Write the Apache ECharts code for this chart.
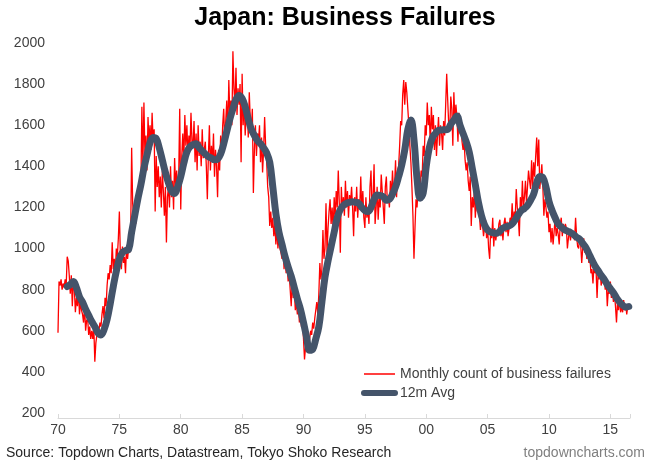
<!DOCTYPE html>
<html>
<head>
<meta charset="utf-8">
<script src="https://cdn.jsdelivr.net/npm/echarts@6/dist/echarts.min.js"></script>
<style>
html, body { margin: 0; padding: 0; background: #fff; }
#chartmain { width: 652px; height: 464px; }
</style>
</head>
<body>
<div id="chartmain"></div>
<script>
// monthly business failures, one row per year starting Jan 1970
var firstYear = 1970;
var monthlyRows = [
  [590, 840, 820, 850, 800, 830, 810, 850, 820, 960, 940, 870],
  [780, 870, 720, 840, 800, 690, 760, 720, 800, 680, 740, 700],
  [680, 640, 720, 600, 650, 660, 580, 620, 560, 600, 560, 620],
  [450, 540, 580, 620, 600, 640, 620, 680, 720, 660, 760, 720],
  [820, 880, 850, 920, 880, 1030, 900, 950, 880, 1000, 960, 1050],
  [1180, 960, 900, 1010, 930, 960, 880, 1010, 950, 1000, 980, 1050],
  [1490, 1220, 1150, 1180, 1120, 1200, 1180, 1250, 1300, 1280, 1690, 1400],
  [1710, 1450, 1550, 1380, 1640, 1520, 1600, 1480, 1660, 1520, 1580, 1180],
  [1450, 1300, 1400, 1250, 1350, 1200, 1380, 1280, 1160, 1300, 1030, 1250],
  [1300, 1200, 1400, 1250, 1330, 1190, 1440, 1300, 1380, 1280, 1350, 1680],
  [1190, 1450, 1560, 1420, 1650, 1500, 1600, 1450, 1550, 1480, 1660, 1520],
  [1500, 1620, 1420, 1560, 1380, 1600, 1450, 1520, 1400, 1580, 1440, 1480],
  [1520, 1400, 1240, 1450, 1600, 1380, 1500, 1420, 1560, 1350, 1480, 1400],
  [1250, 1480, 1380, 1550, 1450, 1600, 1680, 1520, 1620, 1720, 1560, 1820],
  [1650, 1720, 1600, 1960, 1780, 1700, 1880, 1650, 1780, 1700, 1800, 1420],
  [1850, 1600, 1720, 1550, 1650, 1700, 1540, 1760, 1620, 1580, 1680, 1270],
  [1480, 1600, 1450, 1560, 1520, 1600, 1420, 1540, 1370, 1480, 1640, 1500],
  [1420, 1300, 1250, 1110, 1180, 1100, 1150, 1060, 1120, 1020, 1100, 1000],
  [1050, 1000, 980, 950, 1010, 900, 960, 880, 920, 840, 880, 800],
  [720, 850, 760, 800, 700, 740, 680, 720, 640, 700, 620, 660],
  [560, 460, 520, 500, 540, 520, 560, 600, 580, 640, 610, 660],
  [700, 740, 680, 780, 930, 850, 900, 1090, 950, 1000, 1220, 980],
  [1100, 1180, 1240, 1120, 1200, 1090, 1250, 1150, 1280, 1200, 1380, 1220],
  [980, 1300, 1180, 1250, 1160, 1330, 1200, 1280, 1150, 1260, 1220, 1300],
  [1200, 1060, 1250, 1180, 1300, 1150, 1240, 1200, 1350, 1180, 1280, 1150],
  [1100, 1250, 1150, 1200, 1120, 1300, 1380, 1180, 1250, 1410, 1120, 1200],
  [1300, 1140, 1250, 1200, 1360, 1280, 1200, 1120, 1300, 1350, 1220, 1250],
  [1200, 1330, 1250, 1380, 1280, 1300, 1430, 1250, 1380, 1400, 1500, 1620],
  [1600, 1750, 1820, 1700, 1810, 1760, 1680, 1600, 1500, 1420, 1300, 1160],
  [950, 1100, 1240, 1200, 1290, 1250, 1300, 1380, 1350, 1500, 1450, 1600],
  [1550, 1710, 1600, 1650, 1500, 1690, 1580, 1650, 1480, 1600, 1450, 1550],
  [1640, 1500, 1600, 1560, 1480, 1620, 1550, 1700, 1850, 1720, 1600, 1580],
  [1740, 1680, 1500, 1760, 1620, 1700, 1640, 1520, 1660, 1560, 1600, 1520],
  [1480, 1520, 1430, 1380, 1420, 1330, 1280, 1350, 1110, 1250, 1200, 1280],
  [1150, 1250, 1180, 1220, 1160, 1090, 1150, 1120, 1060, 1100, 1140, 1050],
  [1100, 1000, 950, 1090, 1050, 1150, 1010, 1100, 1040, 1080, 1060, 1120],
  [1140, 1060, 1100, 1040, 1120, 1150, 1080, 1130, 1060, 1100, 1150, 1120],
  [1220, 1120, 1180, 1150, 1290, 1200, 1150, 1060, 1250, 1180, 1330, 1200],
  [1250, 1330, 1220, 1300, 1380, 1330, 1290, 1430, 1290, 1420, 1350, 1450],
  [1540, 1400, 1530, 1290, 1350, 1410, 1300, 1160, 1240, 1200, 1150, 1180],
  [1080, 1120, 1030, 1100, 1020, 1080, 1150, 1060, 1100, 1070, 1020, 1120],
  [1150, 1060, 1120, 1080, 1120, 1100, 1000, 1050, 1090, 1040, 1080, 1060],
  [1080, 1040, 1150, 1060, 1010, 1000, 1060, 1020, 930, 1000, 1050, 980],
  [1020, 950, 980, 930, 960, 880, 900, 830, 920, 880, 900, 760],
  [880, 850, 900, 820, 860, 830, 850, 800, 840, 720, 800, 780],
  [840, 760, 800, 740, 780, 720, 640, 740, 700, 760, 690, 720],
  [690, 750, 700, 730, 680, 720, 710]
];

// 12m average, read once per quarter starting Oct 1970
var avgStart = 1970.75;
var avgValues = [
  815,
  825, 840, 810, 765,   740, 705, 675, 645,   620, 590, 580, 605,
  655, 730, 814, 890,   950, 980, 990, 995,   1080, 1160, 1240, 1310,
  1390, 1455, 1515, 1540,   1535, 1490, 1430, 1370,   1320, 1280, 1268, 1300,
  1350, 1415, 1470, 1495,   1505, 1510, 1490, 1475,   1460, 1447, 1440, 1432,
  1435, 1460, 1510, 1570,   1630, 1680, 1725, 1745,   1730, 1690, 1630, 1580,
  1550, 1525, 1510, 1490,   1465, 1420, 1300, 1170,   1080, 1020, 960, 910,
  865, 810, 755, 705,   640, 570, 505, 510,   560, 620, 740, 860,
  940, 1010, 1080, 1150,   1190, 1210, 1220, 1225,   1228, 1225, 1220, 1200,
  1185, 1180, 1200, 1240,   1260, 1258, 1252, 1235,   1240, 1265, 1300, 1350,
  1405, 1480, 1580, 1625,   1530, 1340, 1245, 1270,   1400, 1490, 1540, 1560,
  1575, 1577, 1578, 1580,   1605, 1625, 1645, 1600,   1560, 1520, 1470, 1390,
  1310, 1225, 1160, 1115,   1090, 1080, 1076, 1074,   1085, 1100, 1106, 1110,
  1120, 1140, 1165, 1185,   1195, 1210, 1235, 1265,   1320, 1350, 1345, 1300,
  1230, 1185, 1150, 1120,   1105, 1092, 1085, 1078,   1068, 1055, 1045, 1025,
  1005, 975, 944, 915,   893, 870, 850, 825,   805, 785, 760, 740,
  725, 715, 718
];

var yearLabels = ['70', '75', '80', '85', '90', '95', '00', '05', '10', '15'];

window.onload = function () {
  var monthlyData = [];
  monthlyRows.forEach(function (row, y) {
    row.forEach(function (v, m) {
      monthlyData.push([firstYear + y + m / 12, v]);
    });
  });
  var avgData = avgValues.map(function (v, i) {
    return [avgStart + i / 4, v];
  });

  var font = 'Liberation Sans, Arial, sans-serif';
  var option = {
    animation: false,
    grid: { left: 58, right: 22, top: 43, bottom: 51 },
    xAxis: {
      type: 'value',
      min: 1970,
      max: 2016.6,
      interval: 5,
      offset: 5,
      splitLine: { show: false },
      axisLine: { show: true, lineStyle: { color: '#d9d9d9', width: 1 } },
      axisTick: { show: true, inside: true, length: 4, lineStyle: { color: '#d9d9d9' } },
      axisLabel: {
        color: '#404040', fontSize: 14, fontFamily: font, margin: 5,
        formatter: function (v) {
          var k = (v - 1970) / 5;
          return Number.isInteger(k) ? yearLabels[k] : '';
        }
      }
    },
    yAxis: {
      type: 'value',
      min: 200,
      max: 2000,
      interval: 200,
      splitLine: { show: false },
      axisLine: { show: false },
      axisTick: { show: false },
      axisLabel: {
        color: '#404040', fontSize: 14, fontFamily: font, margin: 13,
        formatter: function (v) { return String(v); }
      }
    },
    legend: {
      orient: 'vertical',
      left: 361,
      top: 367,
      padding: 0,
      itemWidth: 31,
      itemHeight: 14,
      itemGap: 5,
      itemStyle: { opacity: 0 },
      textStyle: { color: '#404040', fontSize: 14, fontFamily: font },
      data: [
        { name: 'Monthly count of business failures', lineStyle: { width: 1.5 } },
        { name: '12m Avg', lineStyle: { width: 6, cap: 'round' } }
      ]
    },
    graphic: [
      {
        type: 'text', x: 345, y: 18,
        style: { text: 'Japan: Business Failures', fill: '#000', font: 'bold 25px ' + font, align: 'center', verticalAlign: 'middle' }
      },
      {
        type: 'text', x: 6, y: 453,
        style: { text: 'Source: Topdown Charts, Datastream, Tokyo Shoko Research', fill: '#262626', font: '14px ' + font, verticalAlign: 'middle' }
      },
      {
        type: 'text', x: 645, y: 453,
        style: { text: 'topdowncharts.com', fill: '#7f7f7f', font: '14px ' + font, align: 'right', verticalAlign: 'middle' }
      }
    ],
    series: [
      {
        name: 'Monthly count of business failures',
        type: 'line',
        data: monthlyData,
        symbol: 'none',
        lineStyle: { color: '#ff0000', width: 1.3 },
        itemStyle: { color: '#ff0000' },
        z: 2
      },
      {
        name: '12m Avg',
        type: 'line',
        data: avgData,
        symbol: 'none',
        smooth: 0.4,
        lineStyle: { color: '#44546a', width: 7, cap: 'round', join: 'round' },
        itemStyle: { color: '#44546a' },
        z: 3
      }
    ]
  };

  var myChart = echarts.init(document.getElementById('chartmain'));
  myChart.setOption(option);
};
</script>
</body>
</html>
